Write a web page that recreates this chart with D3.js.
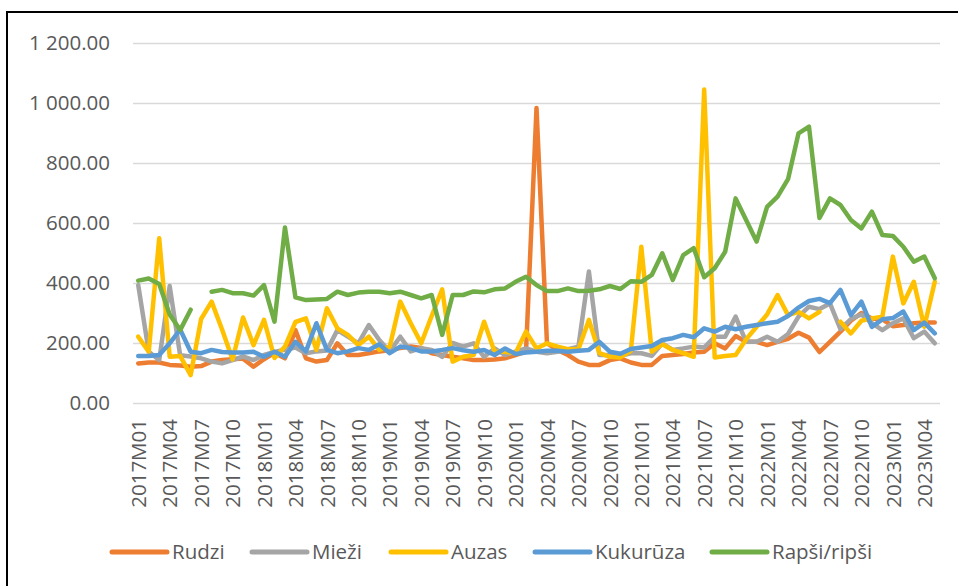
<!DOCTYPE html>
<html>
<head>
<meta charset="utf-8">
<script src="https://cdn.jsdelivr.net/npm/d3@7"></script>
<style>
    body { margin: 0; background: #fff; }
    text { font-family: "Open Sans", sans-serif; fill: #595959; }
</style>
</head>
<body>
<div id="chart"></div>
<script>
// months 2017M01 .. 2023M05
var months = [];
for (var y = 2017; y <= 2023; y++) {
    for (var m = 1; m <= 12; m++) {
        if (y == 2023 && m > 5) break;
        months.push(y + "M" + (m < 10 ? "0" + m : m));
    }
}
var tickLabels = months.filter(function (d, i) { return i % 3 == 0; });
var yTicks = [0, 200, 400, 600, 800, 1000, 1200];

var seriesNames = ["Rudzi", "Mieži", "Auzas", "Kukurūza", "Rapši/ripši"];
var seriesColors = ["#ED7D31", "#A5A5A5", "#FFC000", "#5B9BD5", "#70AD47"];

var rudzi = [132, 135, 135, 127, 125, 121, 123, 138, 143, 146, 148, 121,
    146, 167, 149, 243, 149, 138, 143, 199, 160, 160, 166, 172,
    177, 183, 188, 183, 166, 160, 154, 149, 143, 143, 145, 149,
    160, 171, 983, 199, 177, 160, 138, 127, 127, 143, 149, 135,
    127, 127, 157, 160, 163, 168, 171, 199, 182, 223, 204, 204,
    193, 204, 214, 234, 218, 170, 204, 238, 274, 300, 282, 279,
    256, 260, 266, 268, 268];

var miezi = [393, 171, 143, 390, 159, 155, 149, 138, 132, 143, 155, 143,
    160, 170, 178, 185, 166, 172, 175, 243, 221, 199, 260, 210,
    172, 221, 172, 183, 177, 154, 200, 188, 199, 154, 182, 160,
    171, 182, 171, 166, 171, 179, 188, 438, 160, 160, 157, 166,
    166, 157, 199, 177, 182, 188, 185, 221, 221, 288, 204, 204,
    221, 204, 230, 288, 321, 313, 332, 246, 280, 295, 266, 243,
    266, 282, 216, 238, 199];

var auzas = [221, 171, 549, 154, 157, 93, 280, 338, 245, 145, 285, 193,
    277, 150, 188, 270, 282, 177, 316, 249, 227, 193, 221, 177,
    188, 338, 266, 199, 290, 379, 138, 154, 160, 271, 171, 171,
    166, 238, 182, 199, 188, 179, 179, 277, 166, 154, 152, 174,
    521, 171, 196, 177, 166, 154, 1045, 152, 157, 160, 212, 254,
    295, 360, 293, 304, 282, 304, null, 271, 232, 274, 282, 288,
    488, 332, 404, 254, 404];

var kukuruza = [157, 157, 160, 199, 245, 171, 166, 177, 170, 168, 168, 171,
    154, 171, 154, 204, 172, 266, 177, 166, 172, 183, 177, 196,
    166, 188, 183, 172, 172, 177, 183, 176, 171, 177, 160, 182,
    163, 168, 171, 174, 174, 171, 174, 177, 204, 171, 164, 180,
    185, 190, 210, 216, 227, 219, 249, 238, 254, 246, 254, 260,
    266, 271, 290, 318, 340, 347, 333, 377, 293, 338, 254, 279,
    283, 305, 243, 268, 232];

var rapsi = [408, 415, 397, 295, 243, 311, null, 371, 377, 366, 366, 358,
    393, 271, 585, 352, 343, 345, 347, 371, 360, 368, 371, 371,
    366, 371, 360, 349, 360, 227, 360, 360, 372, 369, 379, 382,
    404, 421, 393, 373, 373, 382, 373, 374, 379, 390, 380, 406,
    404, 427, 499, 410, 493, 516, 419, 449, 504, 682, 610, 538,
    654, 688, 746, 899, 921, 617, 682, 660, 610, 582, 638, 560,
    557, 521, 471, 488, 416];

var seriesValues = [rudzi, miezi, auzas, kukuruza, rapsi];

var locale = d3.formatLocale({ decimal: ".", thousands: " ", grouping: [3], currency: ["", ""] });
var format = locale.format(",.2f");

function init() {
    var svg = d3.select("#chart").append("svg")
        .attr("width", 958).attr("height", 586);

    svg.append("rect").attr("width", 958).attr("height", 586).attr("fill", "#fff");

    // frame (only left and top edges are visible in the picture)
    svg.append("path")
        .attr("d", "M7,586 V12 H958")
        .attr("fill", "none")
        .attr("stroke", "#000")
        .attr("stroke-width", 2);

    var x = d3.scalePoint()
        .domain(months)
        .range([133, 940])
        .padding(0.5);

    var y = d3.scaleLinear()
        .domain([0, 1200])
        .range([403, 43]);

    // gridlines + y labels
    var yAxis = d3.axisLeft(y)
        .tickValues(yTicks)
        .tickSize(-(940 - 133))
        .tickPadding(23)
        .tickFormat(format);

    var gy = svg.append("g")
        .attr("transform", "translate(133,0)")
        .call(yAxis);
    gy.select(".domain").remove();
    gy.selectAll("line").attr("stroke", "#d9d9d9").attr("stroke-width", 1.3);
    gy.selectAll("text")
        .attr("font-size", "20.5px")
        .attr("fill", "#595959")
        .style("font-family", "'Open Sans', sans-serif");

    // x labels, rotated
    var xAxis = d3.axisBottom(x)
        .tickValues(tickLabels)
        .tickSize(0)
        .tickPadding(0);

    var gx = svg.append("g")
        .attr("transform", "translate(0,403)")
        .call(xAxis);
    gx.select(".domain").remove();
    gx.selectAll("text")
        .attr("font-size", "20.5px")
        .attr("fill", "#595959")
        .style("font-family", "'Open Sans', sans-serif")
        .attr("text-anchor", "end")
        .attr("transform", "rotate(-90)")
        .attr("x", -16)
        .attr("y", 0)
        .attr("dy", "0.35em");

    // lines
    seriesValues.forEach(function (vals, k) {
        var line = d3.line()
            .defined(function (d) { return d != null; })
            .x(function (d, i) { return x(months[i]); })
            .y(function (d) { return y(d); });

        svg.append("path")
            .datum(vals)
            .attr("fill", "none")
            .attr("stroke", seriesColors[k])
            .attr("stroke-width", 4.5)
            .attr("stroke-linejoin", "round")
            .attr("stroke-linecap", "round")
            .attr("d", line);
    });

    // legend
    var legendX = [112, 252, 391, 535, 712];
    var legend = svg.selectAll(".legend")
        .data(seriesNames)
        .enter()
        .append("g")
        .attr("class", "legend")
        .attr("transform", function (d, i) { return "translate(" + legendX[i] + ",552)"; });

    legend.append("line")
        .attr("x1", 0).attr("x2", 55)
        .attr("y1", 0).attr("y2", 0)
        .attr("stroke", function (d, i) { return seriesColors[i]; })
        .attr("stroke-width", 5)
        .attr("stroke-linecap", "round");

    legend.append("text")
        .attr("x", 60)
        .attr("y", 0)
        .attr("dy", "0.35em")
        .attr("font-size", "20.5px")
        .text(function (d) { return d; });
}

init();
</script>
</body>
</html>
